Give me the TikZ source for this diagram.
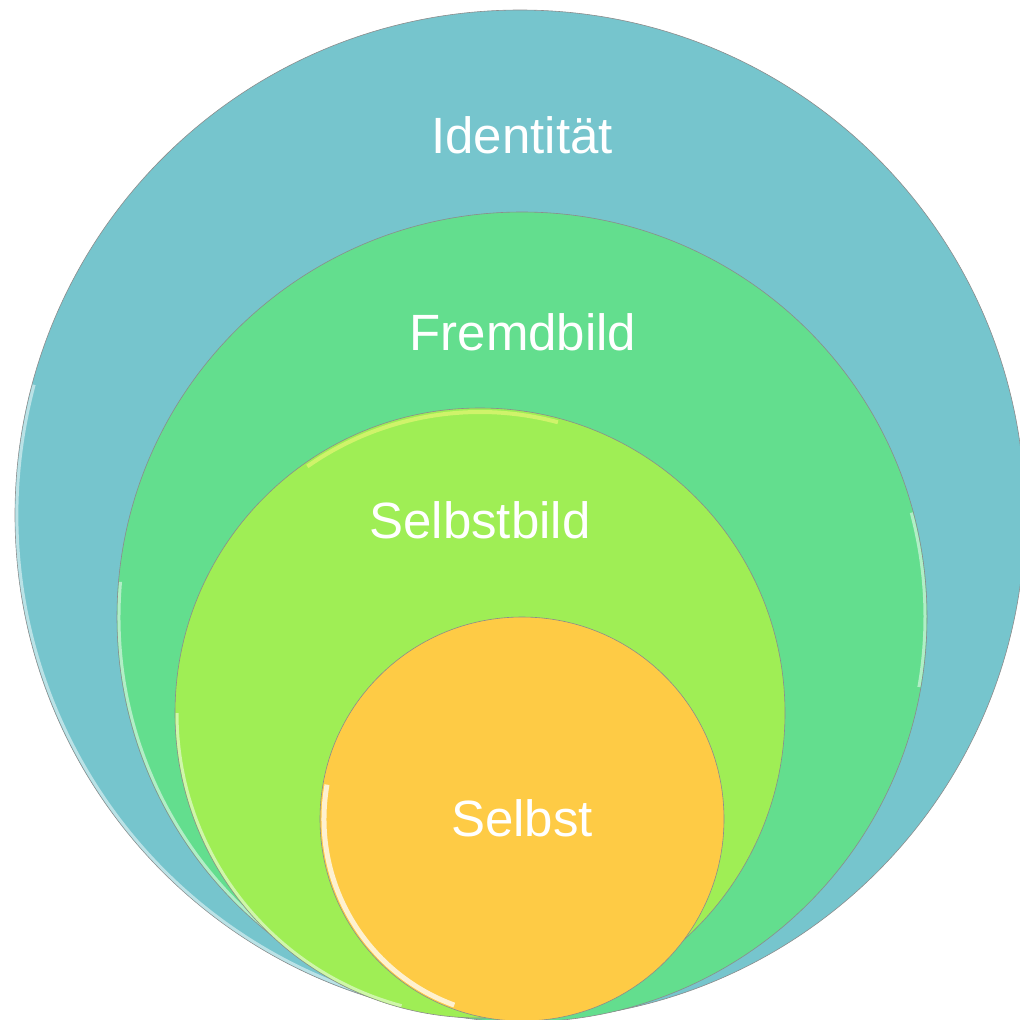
\documentclass[tikz,border=0pt]{standalone}
\usepackage{fontspec}
\setmainfont{Liberation Sans}
\begin{document}
\begin{tikzpicture}[x=1pt,y=1pt,
  ring/.style={circle,draw=black!45,line width=0.6pt,inner sep=0pt},
  rim/.style={draw=white,line width=3pt,opacity=0.5},
  lbl/.style={text=white,font=\fontsize{51}{60}\selectfont}]
\useasboundingbox (0,0) rectangle (1020,-1020);
\definecolor{cIdent}{HTML}{76C5CD}
\definecolor{cFremd}{HTML}{63DE8E}
\definecolor{cSelbstbild}{HTML}{9FEE55}
\definecolor{cSelbst}{HTML}{FECB45}

% nested circles, all touching at the bottom, with soft bevel highlights
\node[ring,fill=cIdent,minimum size=1010pt] (ident) at (520,-515) {};
\draw[rim] (520,-515) ++(165:503) arc (165:255:503);
\node[ring,fill=cFremd,minimum size=810pt] (fremd) at (522,-617) {};
\draw[rim] (522,-617) ++(175:403) arc (175:260:403);
\draw[rim] (522,-617) ++(-10:403) arc (-10:15:403);
\node[ring,fill=cSelbstbild,minimum size=610pt] (sbild) at (480,-713) {};
\draw[rim] (480,-713) ++(180:303) arc (180:255:303);
\draw[draw=yellow!50!white,line width=4pt,opacity=0.5] (480,-713) ++(75:301) arc (75:125:301);
\node[ring,fill=cSelbst,minimum size=404pt] (selbst) at (522,-819) {};
\draw[rim,line width=5pt,opacity=0.75] (522,-819) ++(170:198) arc (170:250:198);

% labels
\node[lbl] (tIdent) at (522,-135) {Identität};
\node[lbl] (tFremd) at (523,-332) {Fremdbild};
\node[lbl] (tSbild) at (480,-520) {Selbstbild};
\node[lbl] (tSelbst) at (522,-818) {Selbst};
\end{tikzpicture}
\end{document}
